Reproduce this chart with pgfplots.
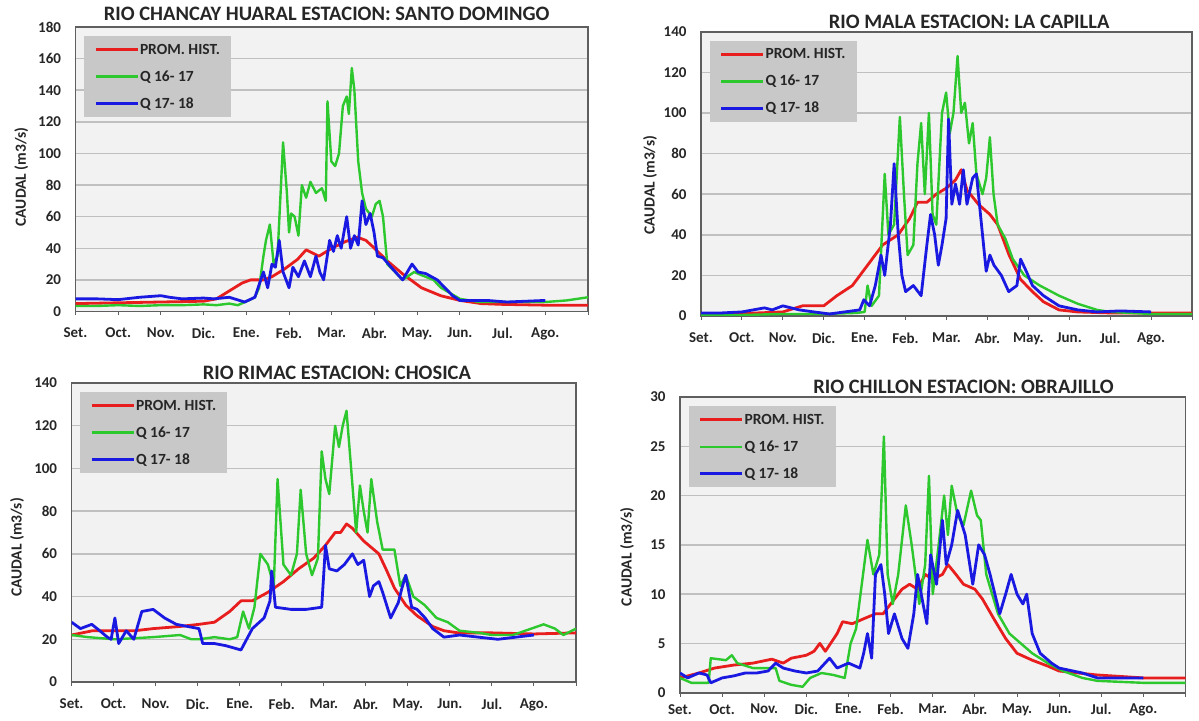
\documentclass[border=0pt]{standalone}
\usepackage{fontspec}
\setmainfont{Carlito}
\usepackage{pgfplots}
\pgfplotsset{compat=1.18}
\definecolor{cred}{RGB}{232,30,30}
\definecolor{cgreen}{RGB}{45,200,45}
\definecolor{cblue}{RGB}{25,25,225}
\definecolor{bgg}{RGB}{242,242,242}
\definecolor{gridg}{RGB}{192,192,192}
\definecolor{frameg}{RGB}{95,95,95}
\definecolor{legg}{RGB}{200,200,200}
\pgfplotsset{
  rio/.style={
    scale only axis, anchor=south west,
    xmin=0, xmax=12, ymin=0,
    xtick={0,1,...,12},
    xticklabels={Set.,Oct.,Nov.,Dic.,Ene.,Feb.,Mar.,Abr.,May.,Jun.,Jul.,Ago.,{}},
    xtick pos=bottom, xtick align=outside, major tick length=4pt,
    ytick style={draw=none},
    xtick style={line width=1pt, frameg},
    ymajorgrids, grid style={line width=1.5pt, gridg},
    axis line style={line width=1.8pt, frameg},
    axis background/.style={fill=bgg},
    /pgf/number format/assume math mode=true,
    tick label style={font=\bfseries\fontsize{15}{17}\selectfont, text=black!85},
    xticklabel style={yshift=-9pt},
    yticklabel style={xshift=-11pt},
    title style={font=\bfseries\fontsize{20.5}{22}\selectfont, text=black!85, anchor=center, yshift=-6pt},
    ylabel={CAUDAL (m3/s)},
    ylabel style={font=\bfseries\fontsize{15.5}{17}\selectfont, text=black!85, anchor=center},
    legend style={at={(axis description cs:0,1)}, anchor=north west, xshift=8.5pt, yshift=-9pt,
      fill=legg, draw=none, inner xsep=10pt, inner ysep=0pt, row sep=0pt,
      font=\bfseries\fontsize{15.5}{17}\selectfont, text=black!85,
      nodes={minimum height=27pt, inner xsep=1pt, inner ysep=0pt}},
    legend cell align=left,
    legend image code/.code={\draw[#1] (0pt,0pt) -- (42pt,0pt);},
  },
  pr/.style={cred, line width=2.8pt, line join=round},
  pg/.style={cgreen, line width=2.4pt, line join=round},
  pb/.style={cblue, line width=2.8pt, line join=round},
}
\begin{document}
\begin{tikzpicture}
\path[use as bounding box] (0,0) rectangle (1199pt,720pt);

% Panel 1
\begin{axis}[rio, at={(75.5pt,408.5pt)}, width=512.5pt, height=284.5pt,
  ymax=180, ytick={0,20,...,180},
  title={RIO CHANCAY HUARAL ESTACION: SANTO DOMINGO},
  title style={at={(axis description cs:0.49,1.046)}},
  ylabel style={at={(axis description cs:-0.106,0.473)}}]
\addplot[pr] coordinates {(0,5) (1,5.5) (2,6) (3,6.5) (3.3,8) (3.6,13) (3.9,18) (4.1,20) (4.4,20) (4.6,22) (4.9,27) (5.2,33) (5.4,39) (5.55,37) (5.7,35) (6.0,40) (6.3,44) (6.6,47) (6.8,45) (7.0,40) (7.3,32) (7.65,24) (8.1,15) (8.55,10) (9.0,7) (9.5,5) (10,4.5) (11,4) (12,4)};
\addlegendentry{PROM. HIST.}
\addplot[pg] coordinates {(0,3.5) (0.5,3.5) (1,4) (1.5,3.5) (2,4) (2.5,4) (3,4.5) (3.3,4) (3.6,5) (3.8,4) (4.05,7) (4.2,9) (4.3,15) (4.4,35) (4.46,45) (4.55,55) (4.64,30) (4.73,35) (4.86,107) (4.95,75) (5.0,50) (5.05,62) (5.13,60) (5.22,48) (5.3,80) (5.4,72) (5.5,82) (5.63,75) (5.77,78) (5.86,70) (5.9,133) (5.99,95) (6.08,92) (6.17,100) (6.26,130) (6.35,136) (6.4,125) (6.47,154) (6.53,140) (6.62,95) (6.71,75) (6.8,65) (6.94,60) (7.03,68) (7.12,70) (7.2,60) (7.3,30) (7.48,25) (7.66,20) (7.93,25) (8.1,23) (8.38,20) (8.56,15) (9.0,8) (9.46,6) (10,6) (11,6) (11.5,7) (12,9)};
\addlegendentry{Q 16- 17}
\addplot[pb] coordinates {(0,8) (0.5,8) (1,7.5) (1.5,9) (2.0,10) (2.2,9) (2.5,8) (3,8.5) (3.24,8) (3.6,9) (3.96,6) (4.2,9) (4.4,25) (4.5,15) (4.6,30) (4.68,28) (4.77,45) (4.86,25) (5.0,15) (5.09,28) (5.22,22) (5.36,32) (5.5,22) (5.63,35) (5.72,25) (5.81,20) (5.95,45) (6.04,38) (6.13,48) (6.22,40) (6.35,60) (6.44,40) (6.53,48) (6.62,42) (6.71,70) (6.8,55) (6.9,62) (6.99,50) (7.07,35) (7.2,34) (7.39,28) (7.66,20) (7.88,30) (8.02,25) (8.2,24) (8.47,20) (8.83,10) (9.0,7) (9.64,7) (10.1,6) (11.0,7)};
\addlegendentry{Q 17- 18}
\end{axis}

% Panel 2
\begin{axis}[rio, at={(701pt,404pt)}, width=491pt, height=284.3pt,
  ymax=140, ytick={0,20,...,140},
  title={RIO MALA ESTACION: LA CAPILLA},
  title style={at={(axis description cs:0.546,1.035)}},
  ylabel style={at={(axis description cs:-0.104,0.46)}}]
\addplot[pr] coordinates {(0,1) (1,1.2) (2,2) (2.48,5) (3.0,5) (3.32,10) (3.7,15) (4.07,25) (4.44,35) (4.82,40) (5.1,48) (5.29,56) (5.52,56) (5.75,60) (6.0,63) (6.22,67) (6.36,72) (6.5,62) (6.78,55) (7.06,50) (7.25,45) (7.53,30) (7.81,18) (8.1,12) (8.37,7) (8.75,3) (9.2,2) (10,1.5) (11,1.5) (12,1.5)};
\addlegendentry{PROM. HIST.}
\addplot[pg] coordinates {(0,0.5) (1,0.5) (2,1) (3,1) (3.8,1.5) (4.0,2) (4.07,15) (4.17,5) (4.35,10) (4.49,70) (4.58,40) (4.72,45) (4.86,98) (4.96,60) (5.05,30) (5.19,35) (5.29,75) (5.38,95) (5.47,60) (5.57,100) (5.66,50) (5.75,45) (5.89,100) (5.99,110) (6.08,90) (6.17,100) (6.27,128) (6.36,100) (6.45,105) (6.55,85) (6.64,95) (6.73,70) (6.88,60) (6.97,68) (7.06,88) (7.15,60) (7.25,45) (7.44,38) (7.62,28) (7.9,20) (8.28,15) (8.75,10) (9.21,6) (9.68,3) (10,2) (11,1) (12,1)};
\addlegendentry{Q 16- 17}
\addplot[pb] coordinates {(0,1.5) (0.5,1.5) (1,2) (1.55,4) (1.74,3) (2.0,5) (2.4,3) (2.76,2) (3.14,1) (3.51,2) (3.88,3) (3.98,8) (4.12,5) (4.26,15) (4.4,30) (4.49,20) (4.63,45) (4.72,75) (4.82,40) (4.91,20) (5.0,12) (5.19,15) (5.38,10) (5.52,35) (5.61,50) (5.71,40) (5.8,25) (5.89,35) (5.99,48) (6.05,97) (6.13,55) (6.22,65) (6.32,55) (6.41,72) (6.5,55) (6.64,68) (6.73,70) (6.83,50) (6.97,22) (7.06,30) (7.16,25) (7.34,20) (7.52,12) (7.72,15) (7.81,28) (7.95,22) (8.1,15) (8.37,10) (8.75,5) (9.21,3) (9.68,2) (10.24,2.5) (11.0,2)};
\addlegendentry{Q 17- 18}
\end{axis}

% Panel 3
\begin{axis}[rio, at={(71.6pt,38pt)}, width=504.4pt, height=299pt,
  ymax=140, ytick={0,20,...,140},
  title={RIO RIMAC ESTACION: CHOSICA},
  title style={at={(axis description cs:0.526,1.033)}},
  ylabel style={at={(axis description cs:-0.108,0.45)}}]
\addplot[pr] coordinates {(0,22) (0.5,24) (1,24) (1.5,24) (1.94,25) (2.58,26) (3.03,27) (3.4,28) (3.76,33) (4.03,38) (4.3,38) (4.67,42) (5.04,47) (5.4,53) (5.76,58) (6.04,64) (6.27,70) (6.4,70) (6.54,74) (6.68,72) (6.95,66) (7.31,60) (7.5,52) (7.68,44) (7.95,36) (8.22,31) (8.59,26) (8.86,24) (9.2,23) (10,23) (11,22.5) (12,23)};
\addlegendentry{PROM. HIST.}
\addplot[pg] coordinates {(0,22) (0.39,21) (1.03,20) (1.94,21) (2.58,22) (2.85,20) (3.03,20) (3.4,21) (3.76,20) (3.94,21) (4.08,33) (4.22,25) (4.35,35) (4.49,60) (4.67,55) (4.81,45) (4.9,95) (5.04,55) (5.22,50) (5.36,60) (5.45,90) (5.58,60) (5.72,50) (5.86,58) (5.95,108) (6.04,95) (6.13,88) (6.27,120) (6.36,110) (6.45,120) (6.54,127) (6.63,105) (6.77,70) (6.86,92) (6.95,80) (7.04,70) (7.13,95) (7.27,75) (7.4,62) (7.68,62) (7.82,45) (7.95,50) (8.13,40) (8.4,36) (8.68,30) (8.95,28) (9.23,24) (9.7,23) (10,22) (10.5,22) (11.23,27) (11.5,25) (11.7,22) (12,25)};
\addlegendentry{Q 16- 17}
\addplot[pb] coordinates {(0,28) (0.21,25) (0.48,27) (0.67,24) (0.85,21) (0.94,20) (1.03,30) (1.12,18) (1.3,24) (1.48,20) (1.67,33) (1.94,34) (2.21,30) (2.49,27) (2.76,26) (3.03,25) (3.12,18) (3.4,18) (3.67,17) (4.03,15) (4.3,25) (4.58,30) (4.72,38) (4.76,52) (4.85,35) (5.22,34) (5.58,34) (5.95,35) (6.04,64) (6.13,53) (6.31,52) (6.49,55) (6.68,60) (6.81,55) (6.95,57) (7.09,40) (7.18,45) (7.31,47) (7.4,42) (7.59,30) (7.77,37) (7.86,44) (7.95,50) (8.09,35) (8.22,34) (8.41,30) (8.59,25) (8.86,21) (9.23,22) (9.68,21) (10.14,20) (11.0,22)};
\addlegendentry{Q 17- 18}
\end{axis}

% Panel 4
\begin{axis}[rio, at={(680pt,27.3pt)}, width=505.5pt, height=295.7pt,
  ymax=30, ytick={0,5,...,30},
  xticklabel style={yshift=5pt},
  title={RIO CHILLON ESTACION: OBRAJILLO},
  title style={at={(axis description cs:0.561,1.034)}},
  ylabel style={at={(axis description cs:-0.105,0.46)}}]
\addplot[pr] coordinates {(0,1.5) (0.45,2) (0.82,2.5) (1.27,2.8) (1.73,3) (2.18,3.4) (2.45,3) (2.64,3.5) (3.0,3.8) (3.18,4.2) (3.32,5) (3.45,4.2) (3.73,6) (3.86,7.2) (4.09,7) (4.36,7.5) (4.64,8) (4.82,8) (5.0,9) (5.27,10.5) (5.45,11) (5.64,10.5) (5.82,12) (6.0,11.5) (6.23,12) (6.36,13) (6.55,12) (6.73,11) (7.0,10.5) (7.18,9.5) (7.45,7.5) (7.73,5.5) (8.0,4) (8.36,3.3) (8.73,2.7) (9.0,2.2) (9.45,2) (9.9,1.8) (11,1.5) (12,1.5)};
\addlegendentry{PROM. HIST.}
\addplot[pg] coordinates {(0,1.5) (0.27,1) (0.68,1) (0.73,3.5) (1.09,3.3) (1.23,3.8) (1.36,3) (1.73,2.5) (2.27,2.5) (2.36,1.2) (2.64,0.8) (2.91,0.6) (3.09,1.5) (3.36,2) (3.64,1.8) (3.91,1.5) (4.05,5) (4.18,6.5) (4.45,15.5) (4.59,12) (4.73,14) (4.84,26) (4.93,12) (5.05,9) (5.18,12) (5.36,19) (5.5,15) (5.68,9) (5.82,13) (5.91,22) (6.0,10) (6.14,15) (6.27,20) (6.36,16) (6.45,21) (6.59,18) (6.73,17) (6.91,20.5) (7.05,18) (7.14,17.5) (7.27,12) (7.55,8) (7.82,6) (8.09,5) (8.36,4) (8.73,3) (9.09,2.2) (9.55,1.5) (9.91,1.2) (11,1) (12,1)};
\addlegendentry{Q 16- 17}
\addplot[pb] coordinates {(0,2) (0.18,1.5) (0.45,2) (0.64,1.8) (0.73,1) (1.0,1.5) (1.27,1.7) (1.55,2) (1.82,2) (2.09,2.2) (2.27,3) (2.45,2.5) (2.73,2.2) (3.0,2) (3.27,2.2) (3.55,3.5) (3.73,2.5) (4.0,3) (4.27,2.5) (4.36,4) (4.45,6) (4.55,3.5) (4.64,12) (4.77,13) (4.86,10) (4.95,6) (5.09,8) (5.27,5.5) (5.41,4.5) (5.55,8) (5.64,12) (5.77,9) (5.86,7) (5.95,14) (6.09,11) (6.23,17.5) (6.32,13) (6.45,15) (6.59,18.5) (6.77,16) (6.95,11) (7.09,15) (7.23,14) (7.36,12) (7.59,8) (7.73,10) (7.86,12) (8.0,10) (8.14,9) (8.23,10) (8.36,6) (8.55,4) (8.82,3) (9.0,2.5) (9.55,2) (9.91,1.5) (11.0,1.5)};
\addlegendentry{Q 17- 18}
\end{axis}
\end{tikzpicture}
\end{document}
